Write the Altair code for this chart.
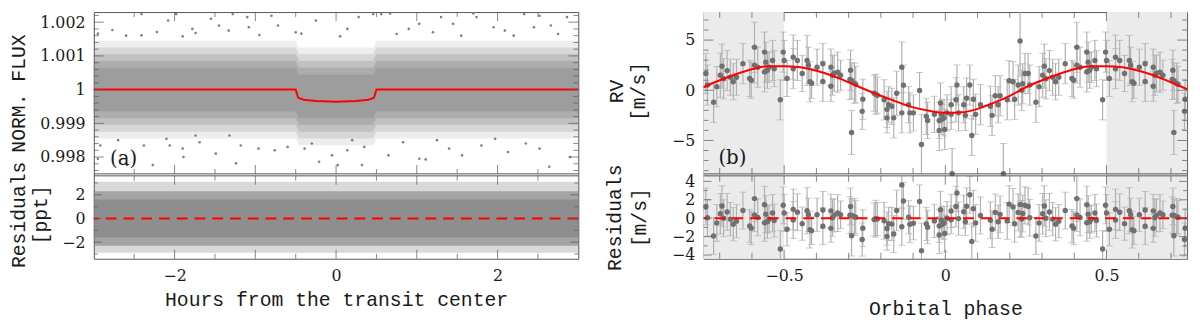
import altair as alt
import pandas as pd

# ======================= DATA =======================
# ---- panel (a): transit light curve (hours from transit centre, normalised flux) ----
model_hours = [-3.0, -0.50, -0.47, -0.40, -0.25, 0.0, 0.25, 0.40, 0.47, 0.50, 3.0]
model_flux = [1.0, 1.0, 0.99976, 0.99970, 0.99966, 0.99964, 0.99966, 0.99970, 0.99976, 1.0, 1.0]

# envelope levels of the dense photometric cloud
cloud_hours = [-3.0, -0.50, -0.46, 0.46, 0.50, 3.0]
cloud_l1_lo = [0.99855, 0.99855, 0.99835, 0.99835, 0.99855, 0.99855]
cloud_l1_hi = [1.00145, 1.00145, 1.00125, 1.00125, 1.00145, 1.00145]
cloud_l2_lo = [0.99875, 0.99875, 0.99855, 0.99855, 0.99875, 0.99875]
cloud_l2_hi = [1.00125, 1.00125, 1.00105, 1.00105, 1.00125, 1.00125]
cloud_l3_lo = [0.99895, 0.99895, 0.99875, 0.99875, 0.99895, 0.99895]
cloud_l3_hi = [1.00105, 1.00105, 1.00085, 1.00085, 1.00105, 1.00105]
cloud_l4_lo = [0.99915, 0.99915, 0.99895, 0.99895, 0.99915, 0.99915]
cloud_l4_hi = [1.00085, 1.00085, 1.00065, 1.00065, 1.00085, 1.00085]
cloud_l5_lo = [0.99935, 0.99935, 0.99915, 0.99915, 0.99935, 0.99935]
cloud_l5_hi = [1.00065, 1.00065, 1.00045, 1.00045, 1.00065, 1.00065]

# isolated points outside the dense cloud
sparse_hours = [-2.41, -2.08, -1.98, -1.78, -1.74, -1.55, -1.28, -1.10, -1.08, -0.80, -0.72,
                -2.95, -2.77, -2.41, -2.22, -1.33, -0.25, 0.28, 0.46, 0.56, 0.67, 1.30, 1.70,
                1.74, 2.33, 2.52, 2.86, 0.14, -0.43, 1.03, 2.09, 2.66, -2.60, -1.90, -0.95,
                -0.50, 0.05, 0.75, 1.20, 1.55, 1.95, 2.20, 2.75, -1.45, 0.90, 1.45, 2.45,
                -2.95, -2.92, -2.59, -2.38, -2.27, -2.06, -1.90, -1.89, -1.69, -1.49, -1.24,
                -1.18, -0.96, -0.76, -0.60, -1.32, -1.74, -2.10, -0.21, 0.02, 0.32, -0.39,
                0.14, 0.65, 1.03, 1.11, 1.40, 1.56, 2.13, 2.52, 2.64, 2.90, 1.80, 0.83, 1.97,
                -2.70, -0.30, 0.35, 1.25, 2.35, -0.05, 0.20]
sparse_flux = [1.00224, 1.00205, 1.00224, 1.00180, 1.00168, 1.00210, 1.00224, 1.00215, 1.00185,
               1.00219, 1.00190, 1.00166, 1.00177, 1.00161, 1.00171, 1.00175, 1.00205, 1.00215,
               1.00224, 1.00224, 1.00226, 1.00215, 1.00226, 1.00215, 1.00224, 1.00219, 1.00215,
               1.00180, 1.00166, 1.00195, 1.00175, 1.00190, 1.00160, 1.00158, 1.00162, 1.00170,
               1.00158, 1.00165, 1.00170, 1.00160, 1.00185, 1.00160, 1.00165, 1.00190, 1.00180,
               1.00195, 1.00185,
               0.99795, 0.99834, 0.99776, 0.99834, 0.99776, 0.99834, 0.99825, 0.99800, 0.99844,
               0.99810, 0.99781, 0.99834, 0.99825, 0.99820, 0.99830, 0.99864, 0.99864, 0.99854,
               0.99786, 0.99776, 0.99776, 0.99825, 0.99820, 0.99805, 0.99795, 0.99793, 0.99825,
               0.99805, 0.99815, 0.99825, 0.99771, 0.99800, 0.99834, 0.99844, 0.99854,
               0.99850, 0.99840, 0.99830, 0.99850, 0.99840, 0.99805, 0.99850]

# residuals of the light curve (ppt): envelope of the dense band
resid_hours = [-3.0, 3.0]
resid_outer_lo = [-2.9, -2.9]
resid_outer_hi = [3.1, 3.1]
resid_mid_lo = [-2.3, -2.3]
resid_mid_hi = [2.3, 2.3]
resid_core_lo = [-1.6, -1.6]
resid_core_hi = [1.6, 1.6]
zero_level = [0.0]
panel_a_label = ["(a)"]
panel_a_x = [-2.80]
panel_a_y = [0.99777]

# ---- panel (b): radial velocities vs orbital phase ----
rv_phase = [-0.491, -0.472, -0.472, -0.459, -0.444, -0.429, -0.425, -0.420, -0.415, -0.398,
            -0.380, -0.380, -0.355, -0.355, -0.350, -0.345, -0.334, -0.325, -0.294, -0.296,
            -0.290, -0.282, -0.278, -0.291, -0.258, -0.256, -0.221, -0.216, -0.211, -0.190,
            -0.181, -0.181, -0.176, -0.166, -0.160, -0.151, -0.135, -0.130, -0.135, -0.114,
            -0.110, -0.099, -0.080, -0.074, -0.059, -0.055, -0.034, -0.019, -0.019, -0.015,
            -0.012, -0.010, -0.004, -0.002, 0.005, 0.018, 0.018, 0.021, 0.033, 0.036,
            0.041, 0.057, 0.062, 0.066, 0.076, 0.082, 0.087, 0.094, 0.109, 0.140,
            0.145, 0.155, 0.164, 0.170, 0.180, 0.192, 0.198, 0.210, 0.215, 0.226,
            0.232, 0.237, 0.240, 0.247, 0.257, 0.262, 0.281, 0.291, 0.302, 0.307,
            0.312, 0.323, 0.333, 0.342, 0.352, 0.372, 0.393, 0.398, 0.408, 0.408,
            0.418, 0.439, 0.439, 0.443, 0.448, 0.453, 0.464, 0.469, 0.488, 0.497, 0.500]
rv_value = [1.18, 3.3, 2.15, 2.97, 1.67, 2.97, 2.5, 0.85, 0.7, 2.3,
            2.65, 0.88, 2.3, 0.4, 1.5, 1.7, 1.8, 1.5, 2.0, 1.08,
            0.95, 0.69, 0.6, -4.2, -2.1, -0.9, -0.3, -0.4, -0.5, -0.95,
            -1.9, -2.75, -1.44, -1.6, -2.75, -0.3, 2.3, 0.5, -2.25, -1.44,
            -2.25, -2.25, -0.03, -5.4, -2.6, -3.0, -2.4, -3.0, -4.0, -1.27,
            -2.4, -2.9, -2.75, -3.9, -2.25, -1.44, -2.4, -8.3, -0.95, 0.52,
            -2.25, -1.44, -2.5, -0.78, 0.52, -4.5, -0.9, -2.4, -1.44, -1.6,
            -2.5, -0.55, -1.44, -0.55, -8.3, -0.95, 0.95, 0.85, -0.9, 0.52,
            4.9, 0.0, 0.65, 1.67, 1.67, 0.52, -1.2, 0.36, 1.5, 2.4,
            1.14, 1.96, 1.3, 0.85, 1.3, 2.65, 1.18, 1.0, 4.28, 2.5,
            2.3, 3.8, 1.83, 2.8, 2.0, 2.3, 2.97, 2.15, -0.95, 3.8, 2.97]
rv_error = [1.8, 2.2, 2.0, 2.0, 1.8, 2.5, 1.8, 2.0, 1.5, 1.8,
            2.0, 2.0, 1.8, 1.5, 2.0, 1.8, 2.0, 1.5, 2.0, 2.0,
            1.8, 2.0, 1.8, 2.2, 1.8, 2.0, 1.8, 2.0, 1.8, 2.0,
            1.8, 1.5, 1.8, 1.8, 2.0, 2.2, 2.5, 2.0, 2.0, 1.8,
            2.0, 1.8, 1.8, 3.0, 1.8, 1.8, 1.8, 1.8, 2.0, 2.0,
            1.5, 1.5, 1.8, 2.0, 1.8, 1.8, 1.5, 2.5, 2.2, 2.0,
            1.8, 1.8, 1.5, 2.0, 2.0, 2.0, 2.0, 2.0, 2.0, 2.0,
            2.0, 2.0, 1.8, 2.0, 3.0, 2.0, 2.0, 2.0, 2.0, 2.0,
            3.5, 2.0, 2.0, 2.0, 2.0, 2.0, 2.0, 2.0, 2.2, 2.2,
            2.0, 2.0, 1.8, 1.8, 1.8, 2.0, 1.8, 1.8, 2.5, 1.8,
            2.0, 2.0, 2.0, 2.0, 1.8, 1.5, 2.0, 1.8, 2.0, 2.0, 2.0]
rv_resid = [-1.2, 0.96, -0.19, 0.65, -0.59, 0.82, 0.38, -1.24, -1.35, 0.37,
            0.9, -0.87, 0.8, -1.1, 0.05, 0.31, 0.56, 0.37, 1.28, 0.33,
            0.29, 0.14, 0.11, -1.9, -2.31, -1.08, -0.14, -0.06, -0.09, -0.28,
            -1.12, -1.97, -0.6, -0.64, -1.72, 0.84, 3.62, 1.87, -0.93, 0.11,
            -0.66, -0.54, 1.81, -3.52, -0.61, -0.98, -0.29, -0.83, -1.83, 0.92,
            -0.2, -0.69, -0.52, -1.66, 0.0, 0.79, -0.17, None, 1.27, 2.73,
            -0.04, 0.71, -0.38, 1.3, 2.54, -2.52, 1.04, -0.51, 0.3, -0.23,
            -1.19, 0.63, -0.39, 0.42, None, -0.29, 1.53, 1.23, -0.6, 0.63,
            1.5, -0.08, 0.51, 1.41, 1.27, 0.05, -1.93, -0.51, 0.48, 1.32,
            0.0, 0.68, -0.1, -0.65, -0.32, 0.83, -0.85, -1.08, 2.13, 0.35,
            0.09, 1.47, -0.5, 0.44, -0.39, -0.1, 0.57, -0.25, -3.35, 1.4, 0.57]

model_phase = [-0.75, -0.70, -0.65, -0.60, -0.55, -0.50, -0.45, -0.40, -0.35, -0.30, -0.25,
               -0.20, -0.15, -0.10, -0.05, 0.0, 0.05, 0.10, 0.15, 0.20, 0.25,
               0.30, 0.35, 0.40, 0.45, 0.50, 0.55, 0.60, 0.65, 0.70, 0.75]
model_rv = [0.3, 1.0, 1.6, 2.1, 2.4, 2.4, 2.3, 1.95, 1.45, 0.8, 0.1,
            -0.55, -1.15, -1.7, -2.05, -2.25, -2.2, -1.85, -1.25, -0.55, 0.3,
            1.0, 1.6, 2.1, 2.4, 2.4, 2.3, 1.95, 1.45, 0.8, 0.1]
shade_from = [-0.75, 0.5]
shade_to = [-0.5, 0.75]
panel_b_label = ["(b)"]
panel_b_x = [-0.704]
panel_b_y = [-7.35]

# ---- tick positions ----
a_xmaj = [-2, -1, 0, 1, 2]
a_xmin = [-2.5, -1.5, -0.5, 0.5, 1.5, 2.5]
a_ymaj = [0.998, 0.999, 1.0, 1.001, 1.002]
a_ymin = [0.9976, 0.9978, 0.9982, 0.9984, 0.9986, 0.9988, 0.9992, 0.9994, 0.9996, 0.9998,
          1.0002, 1.0004, 1.0006, 1.0008, 1.0012, 1.0014, 1.0016, 1.0018, 1.0022]
ar_ymaj = [-2, 0, 2]
ar_ymin = [-3, -1, 1, 3]
b_xmaj = [-0.5, 0.0, 0.5]
b_xmin = [-0.7, -0.6, -0.4, -0.3, -0.2, -0.1, 0.1, 0.2, 0.3, 0.4, 0.6, 0.7]
b_ymaj = [-5, 0, 5]
b_ymin = [-8, -7, -6, -4, -3, -2, -1, 1, 2, 3, 4, 6, 7]
br_ymaj = [-4, -2, 0, 2, 4]
br_ymin = [-3, -1, 1, 3]

# ======================= STYLE / LAYOUT =======================
F_TICK = "DejaVu Serif"
F_TITLE = "Liberation Mono"
TXT = "#1a1a1a"
FRAME = "#555555"
GRAY = "#808080"
PT = "#707070"
ERR = "#b0b0b0"
RED = "#ff0000"
SHADE = "#ebebeb"

W_L, W_R = 491, 490
TOP0, TOP1 = 0, 164      # upper panel pixel span
RES0, RES1 = 166, 250    # residual panel pixel span
H = RES1


def sc(dom, rng=None):
    if rng is None:
        return alt.Scale(domain=dom, nice=False, zero=False)
    return alt.Scale(domain=dom, range=rng, nice=False, zero=False, clamp=True)


xs_a = sc([-3, 3])
ys_a = sc([0.9975, 1.0023], [TOP1, TOP0])
ys_ar = sc([-3.4, 3.6], [RES1, RES0])
xs_b = sc([-0.75, 0.75])
ys_b = sc([-8.33, 7.79], [TOP1, TOP0])
ys_br = sc([-4.4, 4.6], [RES1, RES0])


def y_axis(values, expr, title, tx, ty, lh=20):
    return alt.Axis(orient="left", values=values, labelExpr=expr, title=title, titleX=tx, titleY=ty,
                    titleAngle=270, titleBaseline="middle", titleAlign="center",
                    titleFont=F_TITLE, titleFontSize=20, titleFontWeight="normal",
                    titleColor=TXT, titleLineHeight=lh, labelFont=F_TICK, labelFontSize=16,
                    labelColor=TXT, labelPadding=9, labelFlush=False, labelOverlap=False,
                    ticks=False, tickSize=0, domain=False, grid=False)


def x_axis(values, expr, title, ty):
    return alt.Axis(orient="bottom", values=values, labelExpr=expr, title=title, titleY=ty,
                    titleBaseline="alphabetic", titleFont=F_TITLE, titleFontSize=20,
                    titleFontWeight="normal", titleColor=TXT, labelFont=F_TICK,
                    labelFontSize=16, labelColor=TXT, labelPadding=9, labelFlush=False,
                    labelOverlap=False, ticks=False, tickSize=0, domain=False, grid=False)


def frame_ticks(xs, W, xmaj, xmin, lx, panels):
    """inward ticks on all four sides of each sub-panel; panels = (ys, top, bottom, ymaj, ymin, ly)"""
    layers = []
    for vals, L in ((xmaj, lx[0]), (xmin, lx[1])):
        d = pd.DataFrame({"t": vals})
        for p in panels:
            for yv in (p[1] + L / 2, p[2] - L / 2):
                layers.append(alt.Chart(d).mark_tick(orient="vertical", size=L, thickness=1, color=FRAME)
                              .encode(x=alt.X("t:Q", scale=xs, axis=None), y=alt.value(yv)))
    for ys, _t, _b, ymaj, ymin, ly in panels:
        for vals, L in ((ymaj, ly[0]), (ymin, ly[1])):
            d = pd.DataFrame({"t": vals})
            for xv in (L / 2, W - L / 2):
                layers.append(alt.Chart(d).mark_tick(orient="horizontal", size=L, thickness=1, color=FRAME)
                              .encode(y=alt.Y("t:Q", scale=ys, axis=None), x=alt.value(xv)))
    return layers


def dividers():
    d = pd.DataFrame({"z": zero_level})
    return [alt.Chart(d).mark_rule(color=FRAME, strokeWidth=1).encode(y=alt.value(TOP1)),
            alt.Chart(d).mark_rule(color=FRAME, strokeWidth=1).encode(y=alt.value(RES0))]


def band(xv, lo, hi, xs, ys, op, xax=None, yax=None):
    d = pd.DataFrame({"h": xv, "lo": lo, "hi": hi})
    return alt.Chart(d).mark_area(color=GRAY, opacity=op).encode(
        x=alt.X("h:Q", scale=xs, axis=xax), y=alt.Y("lo:Q", scale=ys, axis=yax), y2="hi:Q")


zero_df = pd.DataFrame({"z": zero_level})

# ======================= PANEL (a) =======================
sparse_df = pd.DataFrame({"h": sparse_hours, "f": sparse_flux})
model_df = pd.DataFrame({"h": model_hours, "f": model_flux})
lab_a = pd.DataFrame({"txt": panel_a_label, "x": panel_a_x, "y": panel_a_y})

panel_a = alt.layer(
    band(cloud_hours, cloud_l1_lo, cloud_l1_hi, xs_a, ys_a, 0.14),
    band(cloud_hours, cloud_l2_lo, cloud_l2_hi, xs_a, ys_a, 0.2),
    band(cloud_hours, cloud_l3_lo, cloud_l3_hi, xs_a, ys_a, 0.25),
    band(cloud_hours, cloud_l4_lo, cloud_l4_hi, xs_a, ys_a, 0.3),
    band(cloud_hours, cloud_l5_lo, cloud_l5_hi, xs_a, ys_a, 0.35),
    alt.Chart(sparse_df).mark_circle(size=7, color=GRAY, opacity=1).encode(
        x=alt.X("h:Q", scale=xs_a, axis=None),
        y=alt.Y("f:Q", scale=ys_a,
                axis=y_axis(a_ymaj, "datum.value == 1 ? '1' : format(datum.value, '.3f')",
                            "NORM. FLUX", -76, 82))),
    alt.Chart(model_df).mark_line(color=RED, strokeWidth=2).encode(
        x=alt.X("h:Q", scale=xs_a, axis=None), y=alt.Y("f:Q", scale=ys_a, axis=None)),
    alt.Chart(lab_a).mark_text(font=F_TICK, fontSize=20, align="left", baseline="alphabetic",
                               color=TXT).encode(
        x=alt.X("x:Q", scale=xs_a, axis=None), y=alt.Y("y:Q", scale=ys_a, axis=None), text="txt:N"),
    band(resid_hours, resid_outer_lo, resid_outer_hi, xs_a, ys_ar, 0.3),
    band(resid_hours, resid_mid_lo, resid_mid_hi, xs_a, ys_ar, 0.6),
    band(resid_hours, resid_core_lo, resid_core_hi, xs_a, ys_ar, 0.6,
         xax=x_axis([-2, 0, 2], "format(datum.value, 'd')", "Hours from the transit center", 47),
         yax=y_axis(ar_ymaj, "format(datum.value, 'd')", ["Residuals", "[ppt]"], -76, RES0 + 39, 22)),
    alt.Chart(zero_df).mark_rule(color=RED, strokeWidth=2, strokeDash=[11, 7]).encode(
        y=alt.Y("z:Q", scale=ys_ar, axis=None)),
    *dividers(),
    *frame_ticks(xs_a, W_L, a_xmaj, a_xmin, (9, 5),
                 [(ys_a, TOP0, TOP1, a_ymaj, a_ymin, (10, 5)),
                  (ys_ar, RES0, RES1, ar_ymaj, ar_ymin, (8, 4))]),
).resolve_scale(y="independent").resolve_axis(x="independent", y="independent").properties(
    width=W_L, height=H)

# ======================= PANEL (b) =======================
rv = pd.DataFrame({"phase": rv_phase, "rv": rv_value, "err": rv_error, "res": rv_resid})
rv_all = pd.concat([rv,
                    rv[rv.phase > 0.25].assign(phase=lambda d: d.phase - 1.0),
                    rv[rv.phase < -0.25].assign(phase=lambda d: d.phase + 1.0)],
                   ignore_index=True)
shade_df = pd.DataFrame({"a": shade_from, "b": shade_to})
curve_df = pd.DataFrame({"phase": model_phase, "rv": model_rv})
lab_b = pd.DataFrame({"txt": panel_b_label, "x": panel_b_x, "y": panel_b_y})


def rv_layers(field, ys, dom, xax, yax):
    base = alt.Chart(rv_all).transform_filter(f"isValid(datum.{field})").transform_calculate(
        lo=f"datum.{field} - datum.err", hi=f"datum.{field} + datum.err")
    X = alt.X("phase:Q", scale=xs_b, axis=None)
    return [
        base.mark_rule(color=ERR, strokeWidth=1.2).encode(
            x=X, y=alt.Y("lo:Q", scale=ys, axis=None), y2="hi:Q"),
        base.transform_filter(f"datum.lo >= {dom[0]}").mark_tick(
            orient="horizontal", size=7, thickness=1, color=ERR).encode(
            x=X, y=alt.Y("lo:Q", scale=ys, axis=None)),
        base.transform_filter(f"datum.hi <= {dom[1]}").mark_tick(
            orient="horizontal", size=7, thickness=1, color=ERR).encode(
            x=X, y=alt.Y("hi:Q", scale=ys, axis=None)),
        base.mark_circle(size=30, color=PT, opacity=1).encode(
            x=alt.X("phase:Q", scale=xs_b, axis=xax),
            y=alt.Y(f"{field}:Q", scale=ys, axis=yax)),
    ]


panel_b = alt.layer(
    alt.Chart(shade_df).mark_rect(color=SHADE).encode(
        x=alt.X("a:Q", scale=xs_b, axis=None), x2="b:Q"),
    *rv_layers("rv", ys_b, [-8.33, 7.79], None,
               y_axis(b_ymaj, "format(datum.value, 'd')", ["RV", "[m/s]"], -88, 80, 22)),
    alt.Chart(curve_df).mark_line(color=RED, strokeWidth=2, interpolate="monotone").encode(
        x=alt.X("phase:Q", scale=xs_b, axis=None), y=alt.Y("rv:Q", scale=ys_b, axis=None)),
    alt.Chart(lab_b).mark_text(font=F_TICK, fontSize=20, align="left", baseline="alphabetic",
                               color=TXT).encode(
        x=alt.X("x:Q", scale=xs_b, axis=None), y=alt.Y("y:Q", scale=ys_b, axis=None), text="txt:N"),
    *rv_layers("res", ys_br, [-4.4, 4.6],
               x_axis(b_xmaj, "datum.value == 0 ? '0' : format(datum.value, '.1f')", "Orbital phase", 57),
               y_axis(br_ymaj, "format(datum.value, 'd')", ["Residuals", "[m/s]"], -90, RES0 + 42, 25)),
    alt.Chart(zero_df).mark_rule(color=RED, strokeWidth=2, strokeDash=[11, 7]).encode(
        y=alt.Y("z:Q", scale=ys_br, axis=None)),
    *dividers(),
    *frame_ticks(xs_b, W_R, b_xmaj, b_xmin, (9, 6),
                 [(ys_b, TOP0, TOP1, b_ymaj, b_ymin, (10, 5)),
                  (ys_br, RES0, RES1, br_ymaj, br_ymin, (8, 4))]),
).resolve_scale(y="independent").resolve_axis(x="independent", y="independent").properties(
    width=W_R, height=H)

chart = alt.hconcat(panel_a, panel_b, spacing=21).properties(padding=0).configure_view(
    stroke=FRAME, strokeWidth=1)

chart.save("out.html", embed_options={"renderer": "svg", "actions": False})
